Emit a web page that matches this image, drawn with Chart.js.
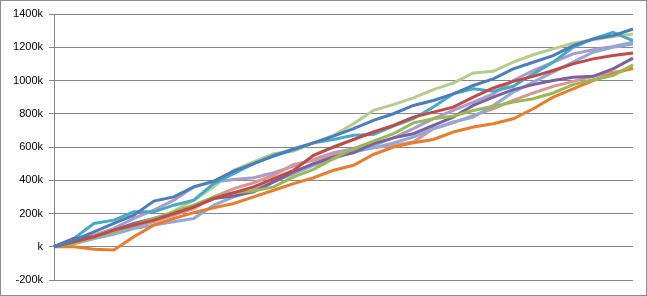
<!DOCTYPE html>
<html>
<head>
<meta charset="utf-8">
<script src="https://cdn.jsdelivr.net/npm/chart.js@4.4.1/dist/chart.umd.min.js"></script>
<style>
    body { margin: 0; background: #fff; }
    #wrap { width: 645px; height: 294px; border: 1px solid #8c8c8c; }
</style>
</head>
<body>
<div id="wrap"><canvas id="chart" width="645" height="294"></canvas></div>
<script>
// time steps (category axis, labels hidden)
const steps = [0, 1, 2, 3, 4, 5, 6, 7, 8, 9, 10, 11, 12, 13, 14, 15, 16, 17, 18, 19, 20, 21, 22, 23, 24, 25, 26, 27, 28, 29];

// values in thousands
const blue = [0, 40, 90, 140, 190, 275, 300, 360, 395, 455, 500, 545, 585, 625, 665, 710, 760, 800, 850, 880, 920, 970, 1010, 1070, 1110, 1150, 1210, 1250, 1270, 1310];
const red = [0, 30, 60, 100, 130, 160, 200, 240, 290, 325, 360, 410, 460, 550, 600, 645, 690, 730, 780, 810, 840, 900, 955, 995, 1025, 1060, 1100, 1130, 1150, 1165];
const green = [0, 20, 60, 90, 130, 170, 210, 250, 300, 325, 335, 360, 420, 465, 530, 590, 635, 680, 745, 770, 785, 820, 845, 870, 890, 925, 975, 1005, 1030, 1095];
const purple = [0, 50, 60, 100, 140, 170, 200, 240, 290, 305, 330, 390, 450, 500, 540, 565, 620, 655, 680, 730, 780, 850, 900, 945, 975, 1000, 1020, 1025, 1070, 1135];
const aqua = [0, 50, 140, 160, 210, 210, 250, 280, 380, 440, 500, 550, 590, 625, 645, 670, 675, 725, 770, 840, 920, 950, 935, 965, 1040, 1110, 1200, 1250, 1290, 1240];
const orange = [0, 0, -15, -20, 60, 130, 170, 205, 235, 260, 300, 340, 380, 415, 460, 490, 555, 600, 625, 645, 690, 720, 740, 770, 830, 900, 950, 1000, 1040, 1075];
const lightBlue = [0, 20, 50, 75, 110, 130, 150, 170, 250, 300, 340, 390, 440, 490, 530, 570, 595, 625, 660, 710, 750, 780, 850, 930, 990, 1050, 1110, 1170, 1200, 1220];
const pink = [0, 40, 70, 100, 120, 150, 190, 230, 300, 350, 385, 430, 495, 520, 555, 575, 595, 610, 630, 710, 745, 790, 830, 880, 925, 965, 995, 1025, 1050, 1070];
const lightGreen = [0, 20, 50, 80, 120, 160, 215, 280, 360, 460, 510, 560, 575, 625, 670, 740, 820, 855, 895, 945, 985, 1045, 1055, 1110, 1155, 1190, 1225, 1245, 1265, 1280];
const lightPurple = [0, 30, 70, 110, 170, 220, 280, 360, 390, 405, 415, 445, 485, 525, 565, 590, 610, 655, 710, 770, 820, 870, 920, 1000, 1060, 1110, 1160, 1185, 1205, 1230];

const series = [
    { name: "Series1", data: blue, color: "#4a7ebb" },
    { name: "Series2", data: red, color: "#be4b48" },
    { name: "Series3", data: green, color: "#98b954" },
    { name: "Series4", data: purple, color: "#7d60a0" },
    { name: "Series5", data: aqua, color: "#46aac5" },
    { name: "Series6", data: orange, color: "#e67e2e" },
    { name: "Series7", data: lightBlue, color: "#8faad6" },
    { name: "Series8", data: pink, color: "#d99694" },
    { name: "Series9", data: lightGreen, color: "#b4cc8e" },
    { name: "Series10", data: lightPurple, color: "#a99bca" }
];

const ctx = document.getElementById("chart").getContext("2d");

new Chart(ctx, {
    type: "line",
    data: {
        labels: steps,
        datasets: series.map(s => ({
            label: s.name,
            data: s.data.map(v => v * 1000),
            borderColor: s.color,
            backgroundColor: s.color,
            borderWidth: 3,
            pointRadius: 0,
            tension: 0
        }))
    },
    options: {
        responsive: false,
        animation: false,
        layout: { padding: { top: 13, right: 13, bottom: 15, left: 0 } },
        plugins: {
            legend: { display: false },
            tooltip: { enabled: false }
        },
        scales: {
            x: { display: false, offset: false },
            y: {
                min: -200000,
                max: 1400000,
                afterFit: (scale) => { scale.width = 53; },
                ticks: {
                    stepSize: 200000,
                    padding: 6,
                    color: "#000",
                    font: { family: "Liberation Sans", size: 11 },
                    callback: (v) => (v === 0 ? "" : v / 1000) + "k"
                },
                grid: { color: "#868686", lineWidth: 1, tickLength: 5 },
                border: { color: "#868686" }
            }
        }
    }
});
</script>
</body>
</html>
